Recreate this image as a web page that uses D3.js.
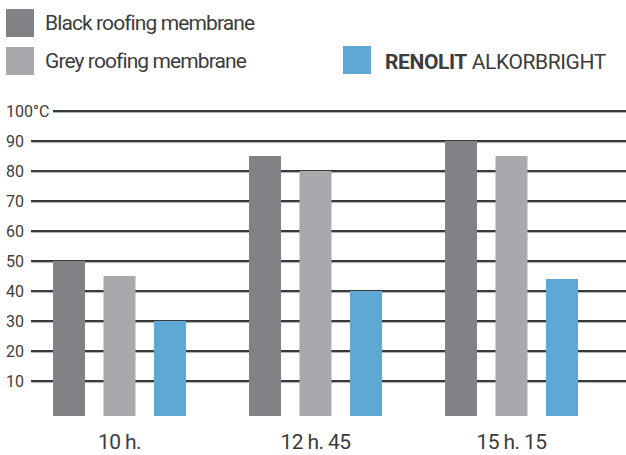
<!DOCTYPE html>
<html>
<head>
<meta charset="utf-8">
<script src="https://cdn.jsdelivr.net/npm/d3@7"></script>
<style>
  body { margin: 0; background: #fff; }
  text { font-family: Roboto, "Open Sans", sans-serif; fill: #3c3c3c; }
</style>
</head>
<body>
<svg id="chart" width="626" height="455"></svg>
<script>
// data
let times = ['10 h.', '12 h. 45', '15 h. 15']
let seriesNames = ['Black roofing membrane', 'Grey roofing membrane', 'RENOLIT ALKORBRIGHT']
let black = [50, 85, 90]
let grey = [45, 80, 85]
let alkorbright = [30, 40, 44]
let yTicks = [10, 20, 30, 40, 50, 60, 70, 80, 90, 100]
let colors = ['#818286', '#a8a9ad', '#5ea8d4']

let svg = d3.select('#chart')

let rows = []
for (let i = 0; i < times.length; i++){
    rows.push({time: times[i], values: [black[i], grey[i], alkorbright[i]]})
}

let yScale = d3.scaleLinear().domain([0, 100]).range([411, 111])
let xScale = d3.scaleBand().domain(times).range([21.5, 609.5])
let xInner = d3.scaleBand().domain(seriesNames).range([-66.5, 66.5]).paddingInner(0.366).paddingOuter(0)

// grid lines with labels on the left
let grid = svg.append('g')
grid.selectAll('line.dark').data(yTicks).join('line')
    .attr('class', 'dark')
    .attr('x1', d => d === 100 ? 53 : 31).attr('x2', 626)
    .attr('y1', d => yScale(d)).attr('y2', d => yScale(d))
    .attr('stroke', '#3a3a3a').attr('stroke-width', 2.2)
grid.selectAll('line.light').data(yTicks).join('line')
    .attr('class', 'light')
    .attr('x1', d => d === 100 ? 53 : 31).attr('x2', 626)
    .attr('y1', d => yScale(d) + 1.6).attr('y2', d => yScale(d) + 1.6)
    .attr('stroke', '#b0b0b0').attr('stroke-width', 1)
grid.selectAll('text').data(yTicks).join('text')
    .text(d => d === 100 ? '100°C' : d)
    .attr('x', 6).attr('y', d => yScale(d))
    .attr('dy', '0.36em')
    .style('font-size', '16px')

// bars
let groups = svg.append('g').selectAll('g').data(rows).join('g')
    .attr('transform', d => 'translate(' + (xScale(d.time) + xScale.bandwidth() / 2) + ',0)')
groups.selectAll('rect').data(d => d.values.map((v, i) => ({name: seriesNames[i], value: v, idx: i}))).join('rect')
    .attr('x', d => xInner(d.name))
    .attr('width', xInner.bandwidth())
    .attr('y', d => yScale(d.value))
    .attr('height', d => yScale(0) + 5 - yScale(d.value))
    .attr('fill', d => colors[d.idx])

// category labels
svg.append('g').selectAll('text').data(times).join('text')
    .text(d => d)
    .attr('x', d => xScale(d) + xScale.bandwidth() / 2)
    .attr('y', 449)
    .attr('text-anchor', 'middle')
    .style('font-size', '21px')
    .style('letter-spacing', '-0.6px')

// legend
let legendPos = [{x: 6, y: 9}, {x: 6, y: 47}, {x: 343, y: 46}]
let legend = svg.append('g').selectAll('g').data(seriesNames).join('g')
    .attr('transform', (d, i) => 'translate(' + legendPos[i].x + ',' + legendPos[i].y + ')')
legend.append('rect').attr('width', 28).attr('height', 28).attr('fill', (d, i) => colors[i])
let legendText = legend.append('text')
    .attr('x', (d, i) => i === 2 ? 42 : 39).attr('y', (d, i) => i === 2 ? 23 : 21)
    .style('font-size', '21px')
    .style('letter-spacing', (d, i) => i === 2 ? '-0.4px' : '-0.9px')
legendText.each(function(d){
    let t = d3.select(this)
    if (d.startsWith('RENOLIT')){
        t.append('tspan').text('RENOLIT').style('font-weight', 'bold')
        t.append('tspan').text(' ALKORBRIGHT')
    }
    else{
        t.text(d)
    }
})
</script>
</body>
</html>
